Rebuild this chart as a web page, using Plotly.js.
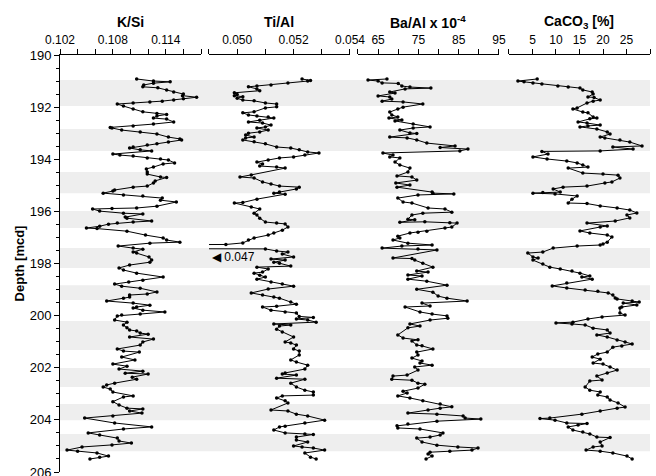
<!DOCTYPE html>
<html><head><meta charset="utf-8">
<script src="https://cdn.plot.ly/plotly-3.0.1.min.js"></script>
<style>html,body{margin:0;padding:0;background:#fff}#chart{width:656px;height:476px}</style>
</head><body><div id="chart"></div>
<script>
// [depth (mcd), value]
const ksiData = [[190.92,.1107],[191.00,.1126],[191.03,.1145],[191.08,.1126],[191.15,.1115],[191.22,.1114],[191.26,.1131],[191.34,.1141],[191.42,.1149],[191.50,.1160],[191.56,.1159],[191.62,.1175],[191.68,.1160],[191.73,.1149],[191.77,.1136],[191.80,.1122],[191.84,.1103],[191.88,.1085],[191.96,.1092],[192.07,.1103],[192.18,.1114],[192.24,.1130],[192.28,.1141],[192.34,.1130],[192.42,.1126],[192.46,.1141],[192.57,.1149],[192.65,.1126],[192.72,.1103],[192.78,.1077],[192.80,.1079],[192.88,.1090],[192.95,.1111],[193.03,.1130],[193.15,.1143],[193.22,.1156],[193.26,.1158],[193.34,.1143],[193.41,.1130],[193.45,.1119],[193.53,.1103],[193.57,.1099],[193.64,.1111],[193.68,.1124],[193.80,.1080],[193.84,.1088],[193.88,.1103],[193.95,.1119],[193.99,.1134],[194.03,.1143],[194.14,.1150],[194.18,.1137],[194.30,.1126],[194.37,.1118],[194.49,.1119],[194.57,.1119],[194.68,.1134],[194.70,.1141],[194.83,.1128],[194.91,.1126],[195.03,.1119],[195.07,.1103],[195.18,.1082],[195.22,.1080],[195.30,.1069],[195.37,.1092],[195.41,.1114],[195.49,.1136],[195.57,.1134],[195.64,.1152],[195.80,.1130],[195.87,.1107],[195.89,.1079],[195.91,.1057],[195.99,.1065],[196.07,.1092],[196.10,.1114],[196.22,.1094],[196.26,.1096],[196.37,.1124],[196.41,.1103],[196.45,.1085],[196.49,.1075],[196.57,.1065],[196.64,.1050],[196.66,.1062],[196.76,.1096],[196.91,.1117],[197.02,.1137],[197.10,.1141],[197.18,.1156],[197.22,.1122],[197.33,.1086],[197.41,.1103],[197.45,.1114],[197.56,.1103],[197.60,.1107],[197.75,.1121],[197.87,.1124],[197.95,.1122],[198.06,.1099],[198.17,.1087],[198.25,.1092],[198.37,.1107],[198.52,.1137],[198.64,.1114],[198.71,.1098],[198.79,.1082],[198.87,.1090],[198.95,.1111],[199.09,.1130],[199.17,.1119],[199.21,.1099],[199.29,.1099],[199.33,.1092],[199.44,.1073],[199.52,.1103],[199.60,.1122],[199.67,.1107],[199.71,.1103],[199.79,.1114],[199.86,.1139],[199.94,.1111],[199.98,.1090],[200.01,.1085],[200.17,.1082],[200.25,.1096],[200.36,.1092],[200.47,.1096],[200.55,.1099],[200.59,.1107],[200.67,.1111],[200.71,.1120],[200.82,.1099],[200.90,.1126],[201.01,.1114],[201.13,.1111],[201.28,.1085],[201.36,.1092],[201.40,.1110],[201.59,.1090],[201.70,.1105],[201.86,.1080],[201.94,.1096],[202.05,.1087],[202.13,.1114],[202.21,.1094],[202.24,.1120],[202.36,.1102],[202.44,.1107],[202.59,.1082],[202.66,.1073],[202.74,.1069],[202.82,.1077],[202.93,.1080],[203.08,.1103],[203.12,.1092],[203.30,.1080],[203.43,.1087],[203.55,.1096],[203.58,.1114],[203.66,.1099],[203.74,.1113],[203.85,.1080],[203.93,.1048],[204.12,.1082],[204.27,.1124],[204.35,.1092],[204.50,.1052],[204.58,.1065],[204.70,.1085],[204.81,.1087],[204.89,.1101],[204.96,.1079],[205.04,.1045],[205.16,.1028],[205.20,.1040],[205.27,.1062],[205.39,.1075],[205.43,.1065],[205.50,.1054]];

const tialData = [[190.92,.0523],[190.98,.0526],[191.00,.0525],[191.07,.0518],[191.15,.0512],[191.19,.0507],[191.22,.0504],[191.30,.0507],[191.37,.0508],[191.45,.0499],[191.52,.0500],[191.56,.0499],[191.60,.0502],[191.66,.0500],[191.73,.0502],[191.76,.0506],[191.84,.0510],[191.88,.0514],[191.99,.0514],[192.03,.0510],[192.18,.0506],[192.22,.0502],[192.30,.0504],[192.34,.0507],[192.38,.0511],[192.42,.0513],[192.50,.0508],[192.57,.0504],[192.61,.0509],[192.69,.0512],[192.76,.0510],[192.80,.0507],[192.88,.0511],[192.95,.0508],[193.00,.0504],[193.07,.0503],[193.15,.0506],[193.18,.0503],[193.26,.0502],[193.33,.0506],[193.41,.0510],[193.53,.0514],[193.57,.0519],[193.64,.0522],[193.72,.0525],[193.76,.0529],[193.84,.0524],[193.91,.0520],[193.95,.0515],[194.03,.0511],[194.11,.0507],[194.18,.0509],[194.26,.0508],[194.30,.0514],[194.34,.0517],[194.60,.0505],[194.68,.0501],[194.72,.0506],[194.87,.0509],[194.95,.0512],[195.03,.0515],[195.07,.0522],[195.14,.0521],[195.26,.0515],[195.30,.0513],[195.34,.0517],[195.53,.0507],[195.66,.0502],[195.68,.0499],[195.83,.0505],[195.91,.0508],[196.07,.0506],[196.14,.0507],[196.26,.0508],[196.41,.0510],[196.45,.0514],[196.48,.0517],[196.60,.0518],[196.72,.0516],[196.83,.0513],[196.91,.0511],[197.02,.0506],[197.10,.0504],[197.21,.0502],[197.27,.0496],[197.28,.0470],[197.43,.0470],[197.44,.0510],[197.52,.0514],[197.56,.0518],[197.64,.0516],[197.75,.0520],[197.83,.0512],[197.87,.0517],[197.95,.0513],[197.99,.0515],[198.10,.0519],[198.14,.0507],[198.21,.0511],[198.33,.0509],[198.37,.0506],[198.45,.0508],[198.52,.0510],[198.60,.0507],[198.71,.0512],[198.79,.0516],[198.87,.0520],[198.98,.0511],[199.13,.0505],[199.21,.0509],[199.29,.0513],[199.33,.0515],[199.48,.0519],[199.56,.0521],[199.64,.0514],[199.67,.0509],[199.79,.0512],[199.86,.0517],[199.90,.0521],[200.03,.0522],[200.07,.0527],[200.13,.0521],[200.17,.0525],[200.25,.0528],[200.32,.0513],[200.36,.0519],[200.40,.0515],[200.52,.0514],[200.63,.0516],[200.82,.0520],[201.01,.0517],[201.05,.0519],[201.13,.0521],[201.28,.0520],[201.36,.0522],[201.51,.0522],[201.70,.0519],[201.78,.0521],[201.90,.0525],[202.05,.0524],[202.20,.0517],[202.24,.0516],[202.28,.0521],[202.40,.0514],[202.44,.0524],[202.59,.0519],[202.74,.0521],[202.86,.0524],[202.93,.0527],[203.05,.0527],[203.08,.0516],[203.16,.0514],[203.27,.0517],[203.35,.0518],[203.62,.0512],[203.66,.0518],[203.78,.0521],[203.85,.0525],[204.01,.0531],[204.12,.0524],[204.24,.0517],[204.27,.0515],[204.39,.0513],[204.50,.0517],[204.54,.0524],[204.56,.0527],[204.66,.0521],[204.77,.0521],[204.85,.0525],[205.00,.0520],[205.04,.0523],[205.08,.0527],[205.16,.0531],[205.27,.0524],[205.43,.0526],[205.50,.0528]];

const baalData = [[190.92,67.2],[190.96,62.5],[191.00,65.0],[191.07,66.0],[191.09,70.0],[191.19,70.9],[191.23,72.9],[191.27,78.1],[191.30,71.7],[191.42,67.9],[191.46,69.2],[191.57,65.0],[191.61,67.9],[191.69,68.4],[191.77,66.0],[191.80,71.2],[191.88,76.1],[192.00,71.2],[192.07,69.9],[192.19,67.9],[192.30,68.4],[192.38,69.9],[192.42,67.7],[192.49,70.9],[192.53,69.2],[192.65,73.7],[192.76,77.9],[192.80,73.7],[192.88,70.4],[192.99,72.9],[193.01,74.6],[193.15,67.9],[193.18,72.2],[193.26,74.6],[193.38,77.1],[193.49,84.1],[193.55,80.4],[193.61,87.3],[193.68,85.3],[193.76,66.2],[193.84,68.7],[193.91,67.9],[193.95,70.4],[194.11,69.2],[194.22,70.4],[194.34,72.9],[194.49,72.4],[194.64,69.7],[194.68,73.4],[194.80,74.6],[194.91,69.4],[194.99,72.9],[195.07,69.7],[195.26,78.4],[195.30,78.6],[195.33,83.8],[195.37,74.9],[195.49,69.9],[195.64,71.2],[195.68,73.4],[195.87,77.4],[195.91,81.6],[196.03,83.3],[196.07,76.1],[196.14,73.4],[196.30,72.4],[196.32,74.1],[196.42,70.4],[196.40,76.6],[196.44,82.8],[196.45,84.6],[196.60,83.3],[196.64,81.6],[196.76,77.1],[196.80,74.9],[196.83,72.9],[196.95,69.9],[197.02,70.4],[197.10,68.7],[197.22,72.4],[197.29,78.4],[197.33,70.9],[197.41,66.0],[197.44,74.9],[197.48,79.6],[197.79,68.7],[197.81,73.4],[197.87,74.1],[197.99,76.1],[198.14,78.6],[198.29,74.6],[198.33,77.4],[198.44,72.4],[198.48,75.9],[198.60,72.4],[198.68,77.1],[198.83,82.1],[198.99,74.6],[199.10,78.6],[199.25,79.9],[199.33,82.1],[199.44,87.1],[199.52,75.9],[199.63,77.9],[199.67,71.7],[199.86,75.4],[199.94,78.4],[200.01,82.1],[200.10,82.3],[200.17,77.9],[200.32,72.9],[200.40,75.4],[200.47,72.4],[200.74,69.9],[200.86,71.2],[200.93,74.9],[200.97,73.4],[201.13,74.6],[201.16,75.9],[201.28,78.6],[201.40,74.6],[201.51,74.9],[201.63,73.4],[201.74,75.9],[201.82,75.4],[201.90,78.4],[201.97,74.1],[202.09,74.9],[202.28,72.2],[202.32,68.7],[202.44,68.4],[202.48,73.4],[202.59,74.9],[202.63,76.6],[202.78,74.9],[202.90,71.2],[202.97,72.2],[203.08,69.9],[203.16,72.9],[203.27,76.1],[203.39,80.4],[203.50,83.3],[203.55,80.4],[203.62,77.4],[203.74,72.4],[203.78,79.6],[203.85,86.1],[203.93,86.6],[203.97,90.5],[204.05,79.6],[204.16,72.4],[204.23,69.7],[204.31,69.9],[204.35,75.4],[204.50,81.1],[204.58,80.4],[204.66,77.9],[204.70,74.6],[204.85,75.9],[204.97,79.6],[205.04,84.8],[205.08,89.8],[205.16,88.3],[205.20,82.8],[205.24,77.9],[205.31,77.4],[205.39,78.4],[205.50,76.9]];

const caco3Data = [[190.92,6.0],[191.00,1.9],[191.03,3.2],[191.07,5.1],[191.11,7.0],[191.19,10.4],[191.23,12.6],[191.27,15.1],[191.34,15.7],[191.42,17.7],[191.50,17.9],[191.61,16.8],[191.63,18.1],[191.73,19.4],[191.77,17.9],[191.84,16.6],[192.03,14.5],[192.07,13.6],[192.19,15.7],[192.22,16.8],[192.38,17.9],[192.42,18.7],[192.45,17.2],[192.57,14.7],[192.61,16.6],[192.69,19.4],[192.72,16.8],[192.76,15.1],[192.84,18.7],[192.95,20.9],[193.03,21.5],[193.15,19.4],[193.18,20.4],[193.26,23.6],[193.34,25.7],[193.49,28.3],[193.53,22.1],[193.61,26.4],[193.68,19.4],[193.70,7.0],[193.80,8.3],[193.91,5.1],[193.99,8.1],[194.07,12.3],[194.14,14.5],[194.22,15.7],[194.30,16.8],[194.34,12.6],[194.53,15.7],[194.57,20.0],[194.61,23.2],[194.72,23.6],[194.87,21.9],[194.91,20.4],[195.03,16.6],[195.07,11.5],[195.14,9.4],[195.26,10.9],[195.28,7.2],[195.30,5.1],[195.33,9.8],[195.41,14.5],[195.53,13.4],[195.68,12.6],[195.70,16.6],[195.79,19.4],[195.87,23.0],[195.95,25.7],[196.06,27.2],[196.14,25.1],[196.25,25.7],[196.37,22.6],[196.45,16.6],[196.56,20.9],[196.60,19.4],[196.75,15.1],[196.83,17.2],[196.91,20.9],[196.98,21.9],[197.18,20.9],[197.25,20.0],[197.29,19.4],[197.33,14.5],[197.41,9.4],[197.56,7.2],[197.60,4.0],[197.75,5.1],[197.79,6.2],[197.87,5.1],[198.02,7.2],[198.14,8.7],[198.21,10.9],[198.29,13.4],[198.37,15.1],[198.48,17.2],[198.52,15.5],[198.60,17.7],[198.75,12.3],[198.86,9.2],[198.94,12.3],[199.02,16.2],[199.06,18.9],[199.13,21.1],[199.21,22.1],[199.32,22.6],[199.36,23.0],[199.44,26.2],[199.48,27.7],[199.52,24.3],[199.59,27.2],[199.67,24.0],[199.71,23.6],[199.90,23.6],[199.98,24.7],[200.05,19.8],[200.13,16.8],[200.25,13.6],[200.28,10.0],[200.32,13.4],[200.36,16.2],[200.48,17.9],[200.55,20.9],[200.67,21.5],[200.74,18.7],[200.82,20.9],[200.94,23.0],[201.01,24.7],[201.09,26.2],[201.17,24.0],[201.21,22.1],[201.40,20.9],[201.47,18.9],[201.59,17.7],[201.67,19.4],[201.82,17.9],[201.86,20.0],[201.97,21.5],[202.09,23.0],[202.20,20.9],[202.32,18.7],[202.47,19.8],[202.51,17.2],[202.74,16.2],[202.86,17.2],[202.93,19.4],[203.05,18.9],[203.12,20.9],[203.24,21.5],[203.35,23.2],[203.51,24.7],[203.55,23.0],[203.66,19.4],[203.78,15.5],[203.93,8.7],[203.95,6.6],[204.01,9.8],[204.12,12.3],[204.14,16.6],[204.20,14.7],[204.27,12.6],[204.39,13.6],[204.47,15.7],[204.54,17.2],[204.66,18.7],[204.68,21.5],[204.85,19.4],[205.00,19.8],[205.04,17.9],[205.16,16.4],[205.20,19.4],[205.27,22.1],[205.39,25.1],[205.50,26.2]];

// shaded depth intervals [top, bottom]
const bands = [[190.96,191.96],[192.84,193.68],[194.49,195.30],[195.99,196.64],[197.41,198.17],[198.83,199.40],[200.21,201.32],[202.01,202.74],[203.39,204.01],[204.54,205.20]];

const panelTitles = ['<b>K/Si</b>','<b>Ti/Al</b>','<b>Ba/Al x 10<sup>-4</sup></b>','<b>CaCO<sub>3</sub> [%]</b>'];
const ksiLabelVals = [0.102,0.108,0.114];
const ksiMinorVals = [0.104,0.106,0.110,0.112,0.116,0.118];
const tialLabelVals = [0.050,0.052,0.054];
const tialMinorVals = [0.049,0.051,0.053];
const baalLabelVals = [65,75,85,95];
const baalMinorVals = [60,70,80,90];
const caco3LabelVals = [5,10,15,20,25];
const caco3MinorVals = [0,30];
const depthTicks = [190,192,194,196,198,200,202,204,206];
const offAxisLabel = '\u25C0 0.047';

const FONT = 'Liberation Sans, Arial, Helvetica, sans-serif';
const domains = [[0,0.239],[0.2525,0.4915],[0.505,0.744],[0.761,1.0]];

function trace(data, xa){
  return {x: data.map(d=>d[1]), y: data.map(d=>d[0]), xaxis: xa, yaxis:'y',
    type:'scatter', mode:'lines+markers', line:{color:'#000', width:1},
    marker:{color:'#000', size:3.5}, cliponaxis:true, showlegend:false, hoverinfo:'skip'};
}
function xax(dom, range, tv, mv, fmt){
  return {domain: dom, range: range, side:'top', anchor:'y', showline:true, linecolor:'#000', linewidth:1,
    ticks:'outside', ticklen:5, tickcolor:'#000', tickwidth:1, tickmode:'array', tickvals:tv, tickformat:fmt,
    minor:{tickmode:'array', tickvals:mv, ticks:'outside', ticklen:5, tickcolor:'#000', tickwidth:1, showgrid:false},
    showgrid:false, zeroline:false, ticklabeloverflow:'allow',
    tickfont:{family:FONT, size:12, color:'#000'}, fixedrange:true};
}

const traces = [trace(ksiData,'x'), trace(tialData,'x2'), trace(baalData,'x3'), trace(caco3Data,'x4')];

const shapes = bands.map(b=>({type:'rect', xref:'paper', yref:'y', x0:0, x1:1, y0:b[0], y1:b[1],
  fillcolor:'#eeeeee', line:{width:0}, layer:'below'}));

const annotations = panelTitles.map((t,i)=>({text:t, xref:'paper', yref:'paper',
  x:(domains[i][0]+domains[i][1])/2, y:1.079, xanchor:'center', yanchor:'middle', showarrow:false,
  font:{family:FONT, size:14, color:'#000'}}));
annotations.push({text:'<b>Depth [mcd]</b>', xref:'paper', yref:'paper', x:-0.068, y:0.5, textangle:-90,
  xanchor:'center', yanchor:'middle', showarrow:false, font:{family:FONT, size:13, color:'#000'}});
annotations.push({text:offAxisLabel, xref:'paper', yref:'y', x:domains[1][0]+0.002, y:197.75, xanchor:'left', yanchor:'middle',
  showarrow:false, font:{family:FONT, size:12, color:'#000'}});

const layout = {
  width:656, height:476, margin:{l:60, r:6, t:55, b:4},
  paper_bgcolor:'#fff', plot_bgcolor:'rgba(0,0,0,0)', showlegend:false,
  xaxis: xax(domains[0],[0.102,0.118], ksiLabelVals, ksiMinorVals, '.3f'),
  xaxis2: xax(domains[1],[0.049,0.054], tialLabelVals, tialMinorVals, '.3f'),
  xaxis3: xax(domains[2],[60,95], baalLabelVals, baalMinorVals, 'd'),
  xaxis4: xax(domains[3],[0,30], caco3LabelVals, caco3MinorVals, 'd'),
  yaxis: {range:[206,190], anchor:'x', showline:true, linecolor:'#000', linewidth:1, ticks:'outside', ticklen:5,
    tickcolor:'#000', tickmode:'array', tickvals:depthTicks, showgrid:false, zeroline:false, ticklabeloverflow:'allow',
    minor:{tick0:190, dtick:0.5, ticks:'outside', ticklen:3, tickcolor:'#000', showgrid:false},
    tickfont:{family:FONT, size:13, color:'#000'}, fixedrange:true},
  shapes: shapes, annotations: annotations
};
Plotly.newPlot('chart', traces, layout, {staticPlot:true, displayModeBar:false});
</script></body></html>
